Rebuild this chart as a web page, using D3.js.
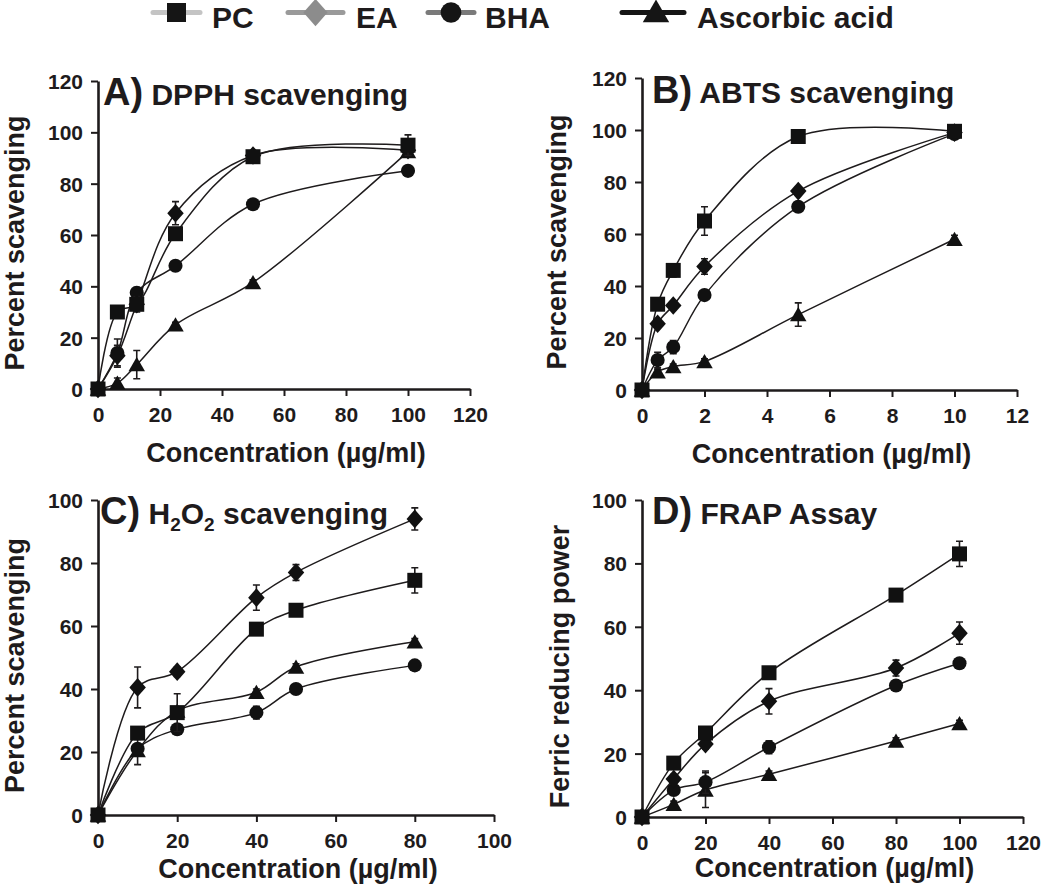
<!DOCTYPE html>
<html><head><meta charset="utf-8">
<script src="https://cdn.jsdelivr.net/npm/d3@7"></script>
<style>
html,body{margin:0;padding:0;background:#fff;}
svg{display:block;font-family:"Liberation Sans",Arial,sans-serif;}
</style></head>
<body><svg id="chart" width="1050" height="893"></svg>
<script>
// ---------- data ----------
const seriesNames = ["PC", "EA", "BHA", "Ascorbic acid"];

// A) DPPH scavenging
const dpphConc = [0, 6.25, 12.5, 25, 50, 100];
const dpphPC  = [0, 30, 33, 60.5, 90.5, 95];
const dpphEA  = [0, 13, 33, 68.5, 91, 93];
const dpphBHA = [0, 14, 37.5, 48, 72, 85];
const dpphAA  = [0, 2.3, 9.5, 25, 41.5, 92.5];
const dpphErrPC  = [0, 1, 2, 1, 1, 4];
const dpphErrEA  = [0, 4, 3, 4.5, 1, 2];
const dpphErrBHA = [0, 5.5, 2, 1, 1.5, 2];
const dpphErrAA  = [0, 2, 5.5, 1, 1, 2];

// B) ABTS scavenging
const abtsConc = [0, 0.5, 1, 2, 5, 10];
const abtsPC  = [0, 33, 46, 65, 97.5, 99.5];
const abtsEA  = [0, 25.5, 32.5, 47.5, 76.5, 99];
const abtsBHA = [0, 11.5, 16.5, 36.5, 70.5, 98.5];
const abtsAA  = [0, 7, 9, 11, 29, 58];
const abtsErrPC  = [0, 2, 2.5, 5.5, 1, 1];
const abtsErrEA  = [0, 1, 1, 3, 1, 1];
const abtsErrBHA = [0, 3, 2.5, 1, 1, 1];
const abtsErrAA  = [0, 1, 1, 1, 4.5, 1.5];

// C) H2O2 scavenging
const h2o2Conc = [0, 10, 20, 40, 50, 80];
const h2o2PC  = [0, 26, 32.5, 59, 65, 74.5];
const h2o2EA  = [0, 40.5, 45.5, 69, 77, 94];
const h2o2BHA = [0, 21, 27.2, 32.5, 40, 47.5];
const h2o2AA  = [0, 20.5, 33, 39, 47, 55];
const h2o2ErrPC  = [0, 2, 6, 1, 1, 4];
const h2o2ErrEA  = [0, 6.5, 1.5, 4, 2.5, 3.5];
const h2o2ErrBHA = [0, 1, 1.5, 2, 1, 1];
const h2o2ErrAA  = [0, 4.5, 1, 1, 1, 1];

// D) FRAP Assay
const frapConc = [0, 10, 20, 40, 80, 100];
const frapPC  = [0, 17, 26.5, 45.5, 70, 83];
const frapEA  = [0, 12, 23, 36.5, 47, 58];
const frapBHA = [0, 8.5, 11, 22, 41.5, 48.5];
const frapAA  = [0, 4, 8.5, 13.5, 24, 29.5];
const frapErrPC  = [0, 1, 1, 1, 1, 4];
const frapErrEA  = [0, 1.5, 1.5, 4, 2.5, 3.5];
const frapErrBHA = [0, 1, 3.5, 2, 1, 1];
const frapErrAA  = [0, 1, 5.5, 1, 1, 1];

// tick labels
const ticksX120 = [0, 20, 40, 60, 80, 100, 120];
const ticksX12  = [0, 2, 4, 6, 8, 10, 12];
const ticksX100 = [0, 20, 40, 60, 80, 100];
const ticksY120 = [0, 20, 40, 60, 80, 100, 120];
const ticksY100 = [0, 20, 40, 60, 80, 100];

const xTitle = "Concentration (µg/ml)";
const yTitleScav = "Percent scavenging";
const yTitleFrap = "Ferric reducing power";

// ---------- layout ----------
const INK = "#1e1b1c";
const svg = d3.select("#chart");

const panels = [
  {letter: "A)", title: [{t: "DPPH scavenging"}], conc: dpphConc,
   vals: [dpphPC, dpphEA, dpphBHA, dpphAA], errs: [dpphErrPC, dpphErrEA, dpphErrBHA, dpphErrAA],
   xT: ticksX120, yT: ticksY120, yLabel: yTitleScav,
   L: 98, R: 470, B: 389, T: 81, titleX: 103, titleY: 105, xTitleOff: 73, yTitleX: 24},
  {letter: "B)", title: [{t: "ABTS scavenging"}], conc: abtsConc,
   vals: [abtsPC, abtsEA, abtsBHA, abtsAA], errs: [abtsErrPC, abtsErrEA, abtsErrBHA, abtsErrAA],
   xT: ticksX12, yT: ticksY120, yLabel: yTitleScav,
   L: 642, R: 1017, B: 390, T: 78, titleX: 652, titleY: 103, xTitleOff: 73, yTitleX: 566},
  {letter: "C)", title: [{t: "H"}, {t: "2", sub: true}, {t: "O"}, {t: "2", sub: true}, {t: " scavenging"}], conc: h2o2Conc,
   vals: [h2o2PC, h2o2EA, h2o2BHA, h2o2AA], errs: [h2o2ErrPC, h2o2ErrEA, h2o2ErrBHA, h2o2ErrAA],
   xT: ticksX100, yT: ticksY100, yLabel: yTitleScav,
   L: 98, R: 494, B: 815, T: 500, titleX: 100, titleY: 524, xTitleOff: 63, yTitleX: 24},
  {letter: "D)", title: [{t: "FRAP Assay"}], conc: frapConc,
   vals: [frapPC, frapEA, frapBHA, frapAA], errs: [frapErrPC, frapErrEA, frapErrBHA, frapErrAA],
   xT: ticksX120, yT: ticksY100, yLabel: yTitleFrap,
   L: 642, R: 1023, B: 817, T: 500, titleX: 652, titleY: 524, xTitleOff: 60, yTitleX: 569}
];

// marker shapes
function markerPath(kind, s) {
  const p = d3.path();
  if (kind === 0) { p.rect(-s/2, -s/2, s, s); }
  else if (kind === 1) { const w = s*0.55, h = s*0.62; p.moveTo(0,-h); p.lineTo(w,0); p.lineTo(0,h); p.lineTo(-w,0); p.closePath(); }
  else if (kind === 2) { p.arc(0, 0, s*0.47, 0, 2*Math.PI); }
  else { const w = s*0.55, h = s*0.5; p.moveTo(0,-h); p.lineTo(w,h*0.9); p.lineTo(-w,h*0.9); p.closePath(); }
  return p.toString();
}

panels.forEach(P => {
  const xMax = P.xT[P.xT.length-1], yMax = P.yT[P.yT.length-1];
  const x = d3.scaleLinear().domain([0, xMax]).range([P.L, P.R]);
  const y = d3.scaleLinear().domain([0, yMax]).range([P.B, P.T]);
  const g = svg.append("g");

  // axes
  const xa = g.append("g").attr("transform", `translate(0,${P.B})`)
    .call(d3.axisBottom(x).tickValues(P.xT).tickSize(7).tickSizeOuter(0).tickPadding(11));
  const ya = g.append("g").attr("transform", `translate(${P.L},0)`)
    .call(d3.axisLeft(y).tickValues(P.yT).tickSize(7).tickSizeOuter(0).tickPadding(8));
  [xa, ya].forEach(a => {
    a.select(".domain").attr("stroke", INK).attr("stroke-width", 2.6);
    a.selectAll(".tick line").attr("stroke", INK).attr("stroke-width", 2);
    a.selectAll(".tick text").attr("fill", INK).attr("font-size", 21).attr("font-weight", "bold")
      .attr("font-family", "'Liberation Sans',Arial,sans-serif");
  });
  ya.selectAll(".tick text").attr("dy", "0.36em");

  // axis titles
  g.append("text").attr("x", (P.L + P.R)/2 + 2).attr("y", P.B + P.xTitleOff)
    .attr("text-anchor", "middle").attr("font-size", 27).attr("font-weight", "bold").attr("fill", INK)
    .text(xTitle);
  g.append("text").attr("transform", `translate(${P.yTitleX},${(P.B + P.T)/2 + 8}) rotate(-90)`)
    .attr("text-anchor", "middle").attr("font-size", 27).attr("font-weight", "bold").attr("fill", INK)
    .text(P.yLabel);

  // panel title
  const tt = g.append("text").attr("x", P.titleX).attr("y", P.titleY).attr("fill", INK).attr("font-weight", "bold");
  tt.append("tspan").attr("font-size", 38).text(P.letter);
  tt.append("tspan").attr("font-size", 30).text(" ");
  let prevSub = false;
  P.title.forEach(part => {
    if (part.sub) { tt.append("tspan").attr("font-size", 19).attr("dy", 7).text(part.t); prevSub = true; }
    else {
      const s = tt.append("tspan").attr("font-size", 30).text(part.t);
      if (prevSub) s.attr("dy", -7);
      prevSub = false;
    }
  });

  // lines
  const line = d3.line().curve(d3.curveCatmullRom.alpha(0.5)).x(d => x(d[0])).y(d => y(d[1]));
  const order = [3, 2, 1, 0];
  order.forEach(si => {
    const pts = P.conc.map((c, i) => [c, P.vals[si][i]]);
    g.append("path").attr("d", line(pts)).attr("fill", "none").attr("stroke", INK).attr("stroke-width", 1.5);
  });
  // error bars + markers
  order.forEach(si => {
    P.conc.forEach((c, i) => {
      const v = P.vals[si][i], e = P.errs[si][i];
      if (e > 0) {
        const cx = x(c), yt = y(v + e), yb = y(v - e);
        g.append("path").attr("d", `M${cx},${yt}V${yb}M${cx-3.5},${yt}H${cx+3.5}M${cx-3.5},${yb}H${cx+3.5}`)
          .attr("stroke", INK).attr("stroke-width", 1.6).attr("fill", "none");
      }
      g.append("path").attr("d", markerPath(si, 15))
        .attr("transform", `translate(${x(c)},${y(v)})`).attr("fill", "#111");
    });
  });
});

// ---------- legend ----------
const legendItems = [
  {x1: 153, x2: 200, tx: 212, lineC: "#c4c4c4", markC: "#151515"},
  {x1: 288, x2: 343, tx: 356, lineC: "#9a9a9a", markC: "#8c8c8c"},
  {x1: 428, x2: 474, tx: 485, lineC: "#7a7a7a", markC: "#151515"},
  {x1: 622, x2: 684, tx: 697, lineC: "#151515", markC: "#151515"}
];
const lg = svg.append("g");
legendItems.forEach((it, i) => {
  const cy = 12.5;
  lg.append("line").attr("x1", it.x1).attr("x2", it.x2).attr("y1", cy).attr("y2", cy)
    .attr("stroke", it.lineC).attr("stroke-width", 5).attr("stroke-linecap", "round");
  const sz = [19, 22, 22, 24][i];
  lg.append("path").attr("d", markerPath(i, sz))
    .attr("transform", `translate(${(it.x1 + it.x2)/2 + (i===3?3:0)},${cy + (i===3?-1:0)})`).attr("fill", it.markC);
  lg.append("text").attr("x", it.tx).attr("y", 28).attr("font-size", 30).attr("font-weight", "bold")
    .attr("fill", INK).text(seriesNames[i]);
});
</script></body></html>
